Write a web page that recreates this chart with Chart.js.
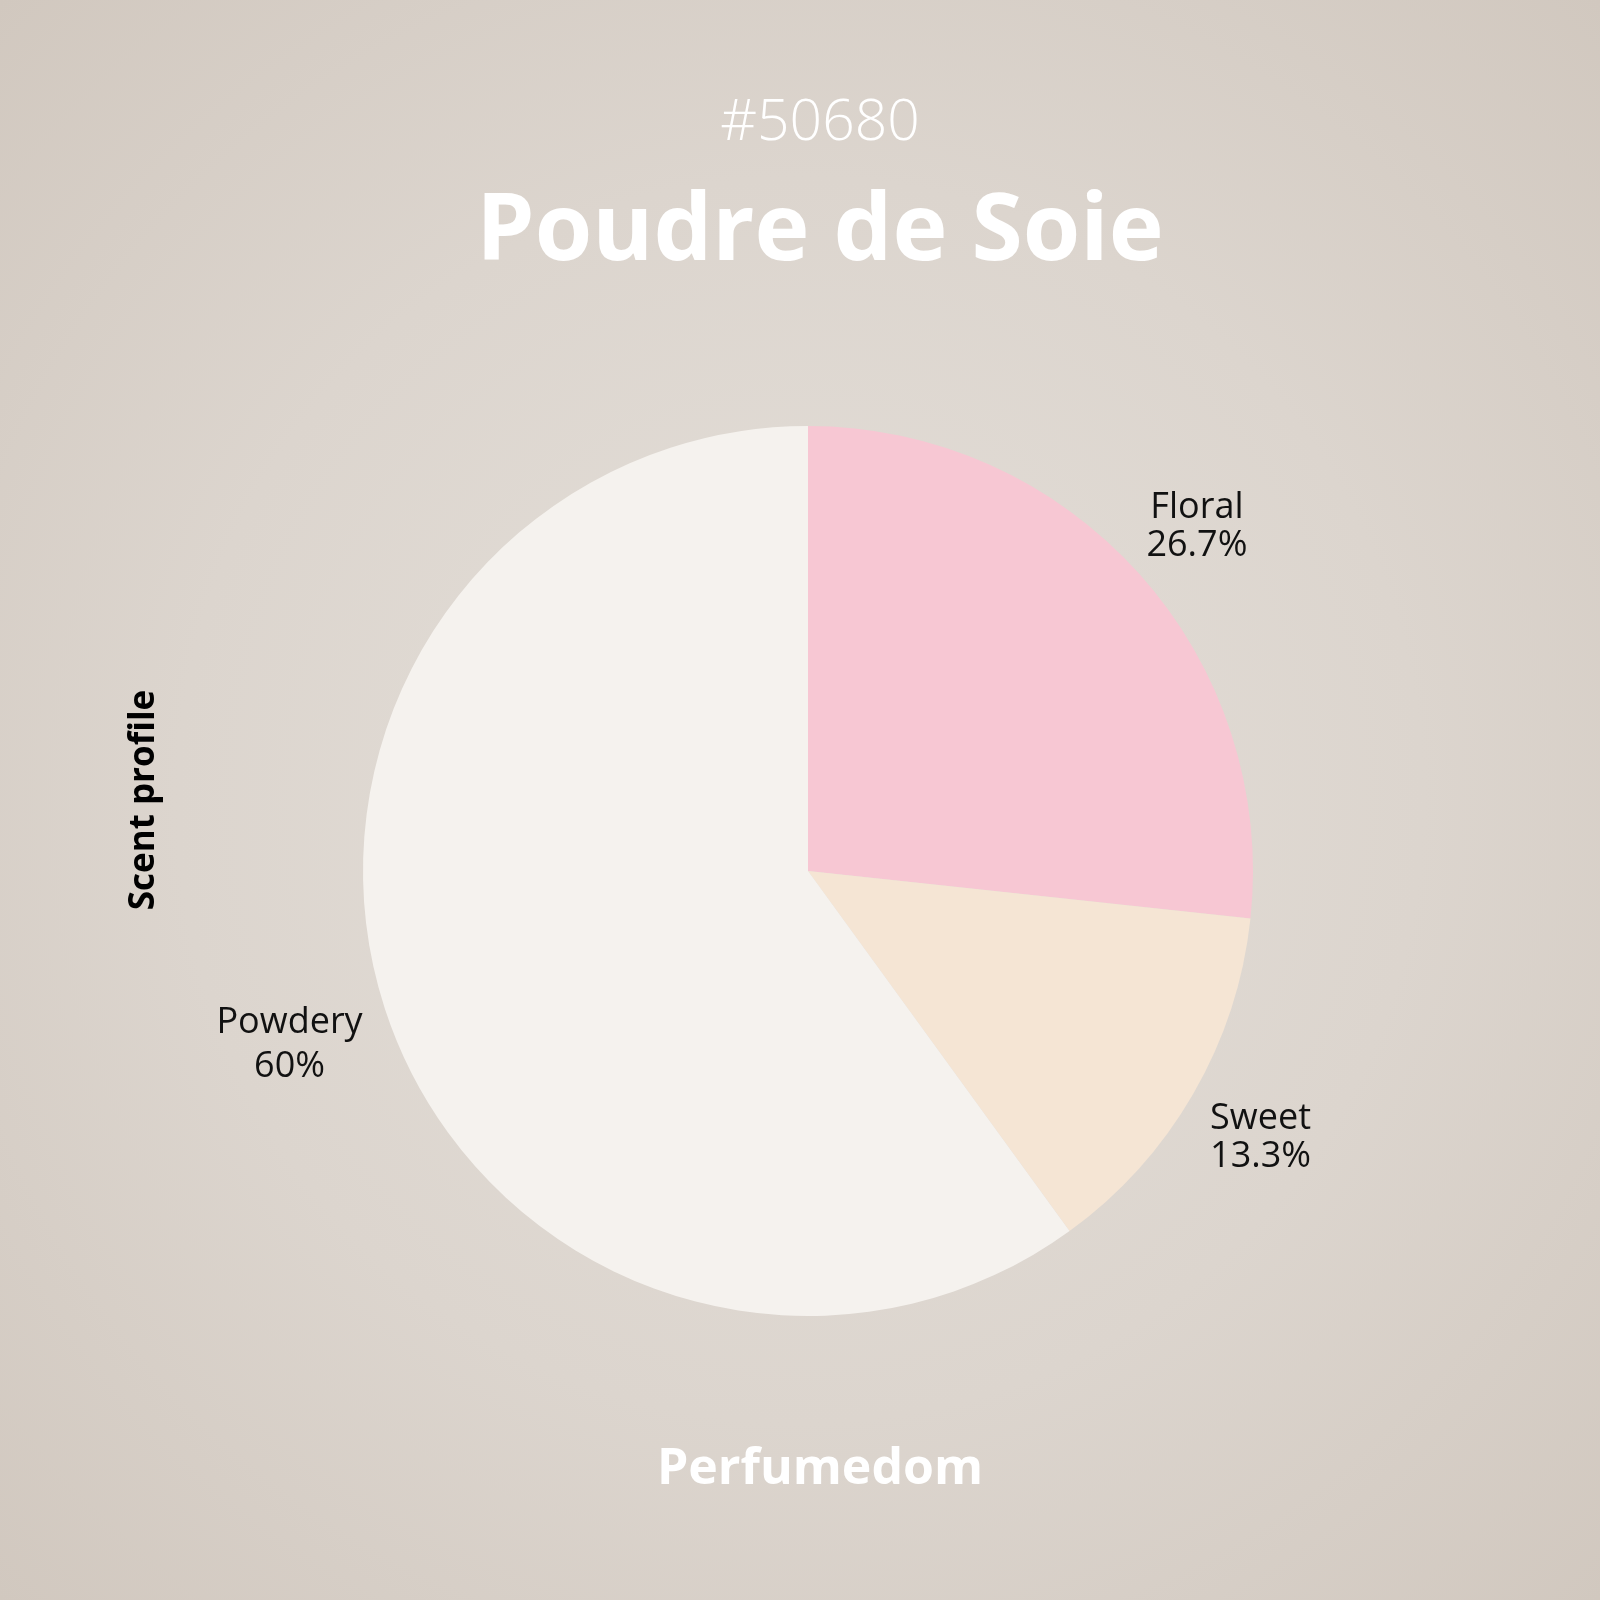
<!DOCTYPE html>
<html>
<head>
<meta charset="utf-8">
<script src="https://cdn.jsdelivr.net/npm/chart.js@4.4.1/dist/chart.umd.min.js"></script>
<style>
  html, body { margin: 0; padding: 0; }
  body {
    width: 1600px; height: 1600px;
    background: radial-gradient(circle at 50% 50%, #e4dfd9 0%, #dcd5ce 55%, #d1c8bf 100%);
  }
  #wrap { position: relative; width: 1600px; height: 1600px; }
</style>
</head>
<body>
<div id="wrap"><canvas id="c" width="1600" height="1600"></canvas></div>
<script>
// data
const categories = ["Floral", "Sweet", "Powdery"];
const shares = [26.7, 13.3, 60];
const shareLabels = ["26.7%", "13.3%", "60%"];
const sliceColors = ["#f7c7d3", "#f5e5d4", "#f5f2ee"];

const chartId = "#50680";
const chartTitle = "Poudre de Soie";
const footer = "Perfumedom";
const sideLabel = "Scent profile";

const FONT = "'Open Sans', 'Noto Sans', sans-serif";

// draws the texts round the pie and the slice labels
const decor = {
  id: 'decor',
  afterDraw(chart) {
    const ctx = chart.ctx;
    ctx.save();
    ctx.textAlign = 'center';
    ctx.textBaseline = 'middle';
    ctx.fillStyle = '#ffffff';
    ctx.font = "300 57px " + FONT;
    ctx.fillText(chartId, 820, 124);
    ctx.font = "700 93px " + FONT;
    ctx.fillText(chartTitle, 820, 233);
    ctx.font = "700 50px " + FONT;
    ctx.fillText(footer, 820, 1470);

    ctx.fillStyle = '#000000';
    ctx.font = "700 35px " + FONT;
    ctx.translate(144, 800);
    ctx.rotate(-Math.PI / 2);
    ctx.fillText(sideLabel, 0, 0);
    ctx.setTransform(1, 0, 0, 1, 0, 0);

    // slice labels outside the pie
    const meta = chart.getDatasetMeta(0);
    ctx.font = "400 36px " + FONT;
    ctx.fillStyle = '#111111';
    meta.data.forEach((arc, i) => {
      const mid = (arc.startAngle + arc.endAngle) / 2;
      const left = Math.cos(mid) < 0;
      const dist = arc.outerRadius * (left ? 1.225 : 1.175);
      const x = arc.x + Math.cos(mid) * dist;
      const y = arc.y + Math.sin(mid) * dist + 5;
      const gap = left ? 22 : 19;
      ctx.fillText(categories[i], x, y - gap);
      ctx.fillText(shareLabels[i], x, y + gap);
    });
    ctx.restore();
  }
};

new Chart(document.getElementById('c'), {
  type: 'pie',
  data: {
    labels: categories,
    datasets: [{
      data: shares,
      backgroundColor: sliceColors,
      borderWidth: 0
    }]
  },
  options: {
    responsive: false,
    animation: false,
    layout: { padding: { left: 363, right: 347, top: 426, bottom: 284 } },
    plugins: {
      legend: { display: false },
      tooltip: { enabled: false }
    }
  },
  plugins: [decor]
});
</script>
</body>
</html>
